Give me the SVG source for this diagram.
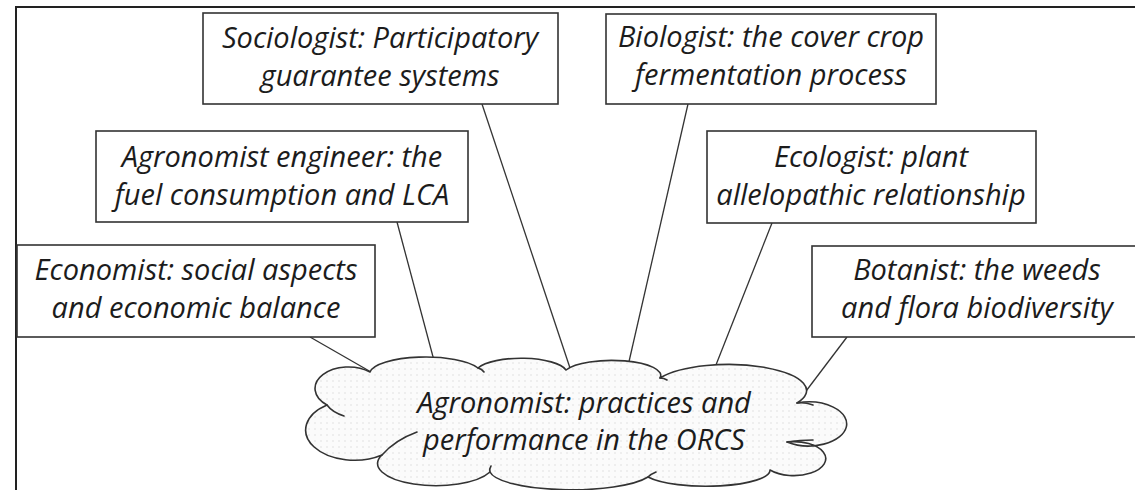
<svg xmlns="http://www.w3.org/2000/svg" width="1135" height="490" viewBox="0 0 1135 490">
  <style>
    .frame { fill: none; stroke: #222; stroke-width: 2; }
    .box { fill: #fff; stroke: #333; stroke-width: 1.6; }
    .link { fill: none; stroke: #333; stroke-width: 1.3; }
    .cloud { fill: url(#dots); stroke: #333; stroke-width: 1.6; stroke-linejoin: round; }
    .tail { fill: none; stroke: #333; stroke-width: 1.6; stroke-linecap: round; }
    .lbl { font-family: "Open Sans", "Noto Sans", sans-serif; font-style: italic; font-size: 29px; fill: #1c1c1c; text-anchor: middle; }
  </style>
  <defs>
    <pattern id="dots" width="6" height="6" patternUnits="userSpaceOnUse">
      <rect width="6" height="6" fill="#fbfbfb"/>
      <circle cx="3" cy="3" r="0.7" fill="#d8d8d8"/>
    </pattern>
  </defs>

  <rect width="1135" height="490" fill="#fff"/>
  <!-- outer frame (top and left edges) -->
  <path class="frame" d="M16,490 V7 H1135"/>

  <!-- connectors from each specialist to the central cloud -->
  <g id="connectors">
    <line class="link" x1="310" y1="337" x2="371" y2="372"/>
    <line class="link" x1="397" y1="222" x2="440" y2="383"/>
    <line class="link" x1="482" y1="104" x2="570" y2="368"/>
    <line class="link" x1="688" y1="104" x2="628" y2="366"/>
    <line class="link" x1="772" y1="223" x2="712" y2="375"/>
    <line class="link" x1="847" y1="337" x2="797" y2="403"/>
  </g>

  <g id="sociologist">
    <rect class="box" x="203" y="13" width="355" height="91"/>
    <text class="lbl" x="380" y="48">Sociologist: Participatory</text>
    <text class="lbl" x="380" y="86">guarantee systems</text>
  </g>

  <g id="biologist">
    <rect class="box" x="606" y="14" width="330" height="90"/>
    <text class="lbl" x="771" y="47">Biologist: the cover crop</text>
    <text class="lbl" x="771" y="85">fermentation process</text>
  </g>

  <g id="agronomist-engineer">
    <rect class="box" x="96" y="131" width="372" height="91"/>
    <text class="lbl" x="282" y="167">Agronomist engineer: the</text>
    <text class="lbl" x="282" y="205">fuel consumption and LCA</text>
  </g>

  <g id="ecologist">
    <rect class="box" x="707" y="131" width="329" height="92"/>
    <text class="lbl" x="871" y="167">Ecologist: plant</text>
    <text class="lbl" x="871" y="205">allelopathic relationship</text>
  </g>

  <g id="economist">
    <rect class="box" x="17" y="245" width="358" height="92"/>
    <text class="lbl" x="196" y="280">Economist: social aspects</text>
    <text class="lbl" x="196" y="318">and economic balance</text>
  </g>

  <g id="botanist">
    <rect class="box" x="812" y="246" width="330" height="91"/>
    <text class="lbl" x="977" y="280">Botanist: the weeds</text>
    <text class="lbl" x="977" y="318">and flora biodiversity</text>
  </g>

  <!-- central cloud -->
  <g id="agronomist">
    <path class="cloud" d="M370,372
      A56,17 0 0 1 478,368
      A46,15 0 0 1 566,370
      A49,15 0 0 1 660,378
      A72,24 0 0 1 797,403
      A38,22 0 1 1 787,442
      A32,17 0 1 1 770,470
      A64,16 0 0 1 648,477
      A82,20 0 0 1 490,472
      A58,22 0 0 1 382,455
      A42,26 0 0 1 327,405
      A28,18 0 0 1 370,372 Z"/>
    <!-- inner tails where the lobes overlap -->
    <path class="tail" d="M327,405 Q332,412 344,416"/>
    <path class="tail" d="M382,455 Q395,440 417,432"/>
    <path class="tail" d="M478,368 Q482,369 484,372"/>
    <path class="tail" d="M660,378 Q664,378 667,380"/>
    <path class="tail" d="M797,403 Q805,402 813,405"/>
    <path class="tail" d="M787,442 Q800,440 813,440"/>
    <path class="tail" d="M648,477 Q651,474 656,472"/>
    <path class="tail" d="M490,472 Q489,469 491,466"/>
    <text class="lbl" x="584" y="413">Agronomist: practices and</text>
    <text class="lbl" x="584" y="450">performance in the ORCS</text>
  </g>
</svg>
